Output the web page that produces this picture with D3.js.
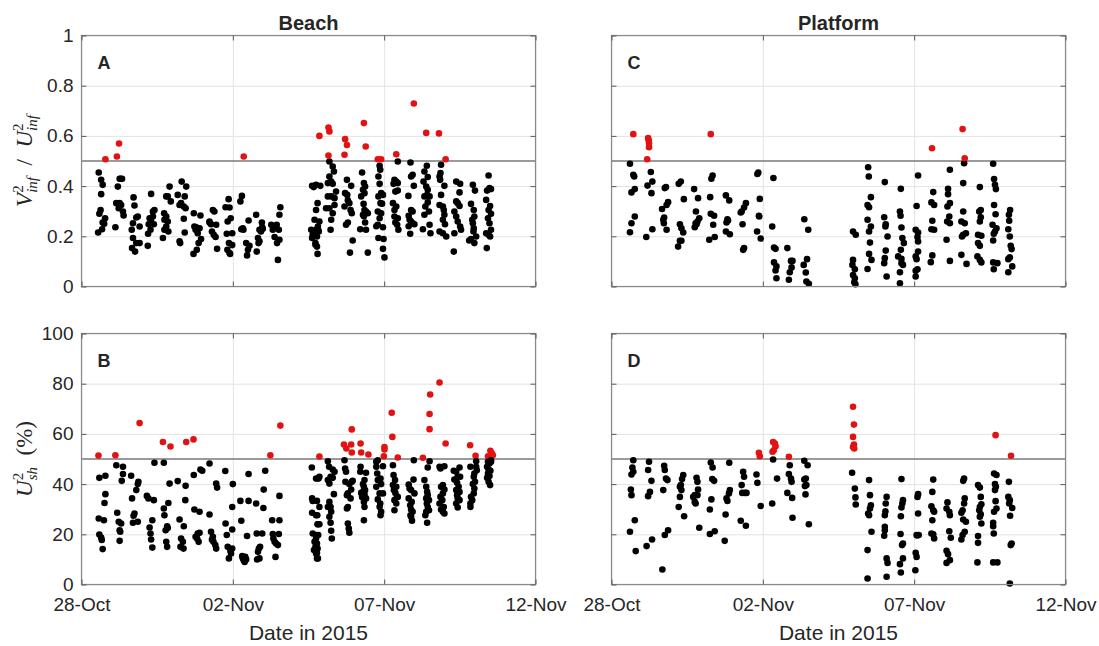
<!DOCTYPE html>
<html>
<head>
<meta charset="utf-8">
<script src="https://cdn.jsdelivr.net/npm/d3@7"></script>
<style>
  body { margin: 0; background: #fff; }
  svg { display: block; }
  text { font-family: "Liberation Sans", Arial, Helvetica, sans-serif; fill: #262626; }
</style>
</head>
<body>
<svg id="chart" width="1099" height="646"></svg>
<script>
// ---- axis ticks and labels ----
const dateTicks = ["2015-10-28", "2015-11-02", "2015-11-07", "2015-11-12"];
const ratioTicks = [0, 0.2, 0.4, 0.6, 0.8, 1];
const shearTicks = [0, 20, 40, 60, 80, 100];
const columnTitles = ["Beach", "Platform"];
const panelLetters = ["A", "C", "B", "D"];
const ratioThreshold = 0.5;
const shearThreshold = 50;

// ---- measurements: [days since 28-Oct-2015 00:00, value] ----
const beachRatio = [
  [0.57,0.454],[0.65,0.425],[0.70,0.405],[0.65,0.368],[0.63,0.305],[0.59,0.290],[0.78,0.272],[0.70,0.255],[0.75,0.250],[0.68,0.228],[0.55,0.215],
  [0.79,0.507],[1.17,0.518],[1.24,0.570],
  [1.26,0.429],[1.29,0.429],[1.20,0.398],[1.34,0.429],[1.15,0.332],[1.26,0.332],[1.31,0.325],[1.37,0.299],[1.39,0.283],[1.12,0.236],[1.23,0.312],
  [1.72,0.355],[1.75,0.323],[1.70,0.252],[1.81,0.275],[1.86,0.279],[1.92,0.239],[1.66,0.226],[1.70,0.193],[1.81,0.173],[1.67,0.153],[1.77,0.139],[1.92,0.173],
  [2.30,0.369],[2.36,0.299],[2.41,0.305],[2.25,0.272],[2.22,0.248],[2.28,0.226],[2.20,0.210],[2.19,0.162],[2.36,0.279],[2.39,0.248],[2.30,0.259],
  [2.91,0.398],[2.95,0.339],[2.80,0.359],[2.85,0.359],[2.73,0.292],[2.80,0.279],[2.85,0.259],[2.74,0.266],[2.80,0.239],[2.69,0.193],[2.87,0.219],[2.74,0.226],
  [3.31,0.418],[3.46,0.398],[3.18,0.365],[3.41,0.359],[3.29,0.332],[3.38,0.319],[3.44,0.312],[3.24,0.325],[3.38,0.270],[3.41,0.215],[3.26,0.173],[3.24,0.180],
  [3.71,0.292],[3.93,0.283],[3.73,0.239],[3.79,0.236],[3.90,0.232],[3.84,0.212],[3.77,0.226],[3.95,0.189],[3.87,0.173],[3.81,0.146],[3.70,0.130],
  [4.34,0.305],[4.39,0.299],[4.23,0.259],[4.28,0.248],[4.45,0.246],[4.31,0.219],[4.37,0.206],[4.43,0.197],[4.48,0.150],[4.23,0.255],
  [4.86,0.348],[4.76,0.316],[4.89,0.315],[4.93,0.272],[4.83,0.259],[4.98,0.212],[4.80,0.210],[4.87,0.173],[4.82,0.146],[4.91,0.130],[4.98,0.165],[4.89,0.133],
  [5.36,0.518],
  [5.30,0.361],[5.25,0.339],[5.52,0.263],[5.33,0.232],[5.35,0.226],[5.44,0.173],[5.50,0.146],[5.47,0.124],[5.55,0.162],[5.28,0.228],
  [5.77,0.286],[5.96,0.255],[5.88,0.226],[5.93,0.219],[5.99,0.230],[5.83,0.193],[5.85,0.173],[5.79,0.139],[5.88,0.180],[5.97,0.236],
  [6.27,0.246],[6.34,0.239],[6.45,0.246],[6.54,0.286],[6.57,0.316],[6.52,0.226],[6.38,0.197],[6.46,0.173],[6.54,0.186],[6.49,0.106],[6.32,0.226],
  [7.62,0.401],[7.67,0.396],[7.75,0.305],[7.70,0.266],[7.59,0.226],[7.64,0.206],[7.81,0.239],[7.73,0.173],[7.78,0.159],[7.68,0.212],[7.62,0.193],
  [7.84,0.219],[7.75,0.405],[7.80,0.332],[7.86,0.259],[7.82,0.226],[7.78,0.199],[7.73,0.166],[7.80,0.130],[7.89,0.401],[7.75,0.226],
  [7.86,0.600],
  [8.19,0.498],[8.30,0.478],[8.34,0.458],[8.19,0.438],[8.25,0.418],[8.14,0.412],[8.30,0.409],[8.41,0.378],[8.25,0.359],[8.36,0.352],[8.19,0.312],
  [8.36,0.325],[8.30,0.292],[8.25,0.266],[8.23,0.226],[8.14,0.359],[8.08,0.312],
  [8.16,0.633],[8.19,0.618],[8.16,0.522],
  [8.77,0.425],[8.91,0.401],[8.71,0.372],[8.78,0.365],[8.69,0.319],[8.80,0.343],[8.85,0.332],[8.89,0.305],[8.93,0.292],[8.80,0.255],[8.74,0.246],[8.96,0.183],[8.87,0.135],
  [8.71,0.587],[8.77,0.564],[8.69,0.525],
  [9.27,0.454],[9.33,0.412],[9.37,0.398],[9.30,0.385],[9.35,0.372],[9.24,0.359],[9.32,0.329],[9.35,0.305],[9.40,0.299],[9.46,0.292],[9.30,0.286],
  [9.37,0.255],[9.21,0.228],[9.40,0.226],[9.46,0.135],[9.33,0.280],
  [9.33,0.651],[9.39,0.558],
  [9.85,0.481],[9.87,0.465],[9.81,0.438],[9.85,0.409],[9.90,0.372],[9.96,0.365],[9.81,0.359],[9.88,0.332],[9.93,0.330],[9.79,0.299],[9.90,0.292],
  [9.85,0.272],[9.96,0.236],[9.79,0.246],[9.81,0.193],[9.98,0.189],[9.96,0.150],[10.01,0.116],[9.74,0.240],
  [9.79,0.507],[9.90,0.507],
  [10.45,0.498],[10.34,0.425],[10.40,0.418],[10.31,0.409],[10.45,0.412],[10.37,0.378],[10.45,0.382],[10.29,0.332],[10.40,0.319],[10.34,0.305],
  [10.45,0.272],[10.37,0.255],[10.43,0.246],[10.47,0.226],[10.34,0.279],
  [10.40,0.527],
  [10.87,0.494],[10.94,0.445],[10.89,0.438],[10.98,0.401],[10.80,0.361],[10.89,0.305],[10.94,0.299],[10.81,0.282],[10.84,0.266],[10.89,0.259],
  [10.94,0.252],[11.00,0.248],[10.86,0.210],[10.81,0.240],
  [10.98,0.729],
  [11.41,0.481],[11.33,0.458],[11.44,0.436],[11.30,0.418],[11.39,0.398],[11.44,0.385],[11.42,0.365],[11.33,0.359],[11.50,0.359],[11.44,0.335],
  [11.36,0.319],[11.48,0.299],[11.33,0.286],[11.50,0.246],[11.28,0.228],[11.53,0.212],
  [11.39,0.612],
  [11.88,0.485],[11.86,0.452],[11.83,0.438],[11.85,0.425],[11.99,0.401],[11.88,0.365],[11.83,0.325],[11.94,0.319],[11.97,0.305],[11.99,0.286],
  [11.94,0.266],[12.01,0.248],[11.83,0.219],[11.94,0.212],[12.05,0.199],
  [11.81,0.610],[12.03,0.507],
  [12.38,0.418],[12.51,0.409],[12.49,0.375],[12.38,0.339],[12.43,0.332],[12.49,0.321],[12.32,0.299],[12.38,0.279],[12.43,0.259],[12.51,0.239],
  [12.54,0.226],[12.32,0.212],[12.30,0.139],
  [12.93,0.405],[13.00,0.382],[12.87,0.329],[12.96,0.305],[12.98,0.279],[12.91,0.266],[12.93,0.252],[12.96,0.232],[13.04,0.199],[12.87,0.189],
  [12.98,0.173],[12.81,0.183],[12.95,0.219],
  [13.45,0.442],[13.48,0.392],[13.53,0.388],[13.40,0.382],[13.37,0.345],[13.50,0.321],[13.45,0.305],[13.53,0.290],[13.43,0.272],[13.48,0.252],
  [13.53,0.226],[13.37,0.212],[13.50,0.199],[13.45,0.206],[13.39,0.153]
];

const platformRatio = [
  [0.61,0.489],[0.72,0.445],[0.75,0.438],[0.77,0.388],[0.66,0.375],[0.77,0.279],[0.66,0.252],[0.61,0.216],
  [0.72,0.607],[1.21,0.591],[1.23,0.582],[1.24,0.571],[1.24,0.555],[1.18,0.507],
  [1.30,0.456],[1.35,0.418],[1.19,0.402],[1.32,0.372],[1.35,0.228],[1.15,0.197],
  [1.76,0.392],[1.80,0.396],[1.87,0.336],[1.82,0.325],[1.67,0.309],[1.74,0.275],[1.71,0.266],[1.73,0.252],[1.82,0.226],
  [2.29,0.418],[2.22,0.409],[2.39,0.348],[2.26,0.248],[2.31,0.232],[2.37,0.215],[2.31,0.182],[2.26,0.182],[2.20,0.159],
  [2.73,0.388],[2.86,0.352],[2.79,0.299],[2.90,0.272],[2.84,0.259],[2.81,0.248],[2.75,0.236],[2.78,0.252],
  [3.34,0.442],[3.30,0.429],[3.26,0.356],[3.28,0.290],[3.39,0.282],[3.36,0.246],[3.41,0.197],[3.23,0.186],
  [3.28,0.607],
  [3.78,0.363],[3.89,0.343],[3.83,0.268],[3.80,0.255],[3.85,0.263],[3.78,0.219],[3.91,0.208],
  [4.44,0.332],[4.38,0.315],[4.30,0.299],[4.33,0.248],[4.38,0.153],[4.35,0.146],[4.27,0.295],
  [4.82,0.448],[4.85,0.454],[4.90,0.349],[4.87,0.282],[4.88,0.279],[4.81,0.219],[4.93,0.191],
  [5.35,0.432],[5.31,0.239],[5.37,0.155],[5.42,0.150],[5.37,0.096],[5.45,0.080],[5.42,0.064],[5.45,0.033],
  [5.81,0.153],[5.93,0.102],[5.98,0.102],[5.95,0.076],[5.89,0.057],[5.86,0.027],
  [6.37,0.268],[6.50,0.226],[6.46,0.109],[6.35,0.086],[6.42,0.056],[6.44,0.020],[6.52,0.011],
  [7.98,0.219],[8.07,0.206],[7.98,0.106],[7.96,0.086],[8.04,0.069],[7.98,0.046],[8.04,0.033],[8.02,0.017],[8.06,0.009],
  [8.48,0.475],[8.50,0.438],[8.57,0.356],[8.46,0.325],[8.51,0.316],[8.46,0.266],[8.57,0.239],[8.51,0.219],[8.54,0.175],[8.51,0.130],[8.59,0.106],[8.46,0.070],
  [9.03,0.416],[9.01,0.276],[9.06,0.248],[9.05,0.239],[9.12,0.199],[9.06,0.143],[9.03,0.113],[9.01,0.093],[9.09,0.040],
  [9.56,0.389],[9.53,0.299],[9.55,0.282],[9.58,0.235],[9.61,0.193],[9.66,0.173],[9.56,0.146],[9.47,0.120],[9.58,0.093],[9.63,0.086],[9.58,0.110],[9.53,0.013],[9.53,0.057],
  [10.13,0.442],[10.08,0.321],[10.05,0.226],[10.13,0.215],[10.11,0.197],[10.13,0.179],[10.05,0.120],[10.13,0.139],[10.08,0.109],[10.11,0.069],[10.05,0.040],[10.05,0.063],
  [10.63,0.376],[10.57,0.335],[10.66,0.325],[10.60,0.262],[10.57,0.228],[10.66,0.226],[10.60,0.124],[10.55,0.097],
  [10.59,0.551],
  [11.18,0.465],[11.12,0.389],[11.12,0.368],[11.18,0.332],[11.10,0.319],[11.16,0.279],[11.09,0.259],[11.18,0.252],[11.07,0.186],[11.18,0.102],
  [11.65,0.491],[11.62,0.412],[11.62,0.299],[11.56,0.259],[11.67,0.252],[11.62,0.206],[11.71,0.212],[11.58,0.199],[11.56,0.126],[11.73,0.090],
  [11.60,0.627],[11.67,0.511],
  [12.17,0.396],[12.20,0.305],[12.15,0.299],[12.20,0.276],[12.17,0.259],[12.11,0.206],[12.22,0.202],[12.11,0.173],[12.09,0.120],[12.17,0.106],[12.22,0.096],[12.17,0.162],
  [12.61,0.489],[12.64,0.428],[12.67,0.405],[12.70,0.388],[12.64,0.325],[12.69,0.288],[12.72,0.232],[12.67,0.219],[12.61,0.183],[12.59,0.246],[12.63,0.210],[12.61,0.096],[12.75,0.093],[12.63,0.069],
  [13.13,0.286],[13.14,0.262],[13.11,0.228],[13.16,0.199],[13.19,0.162],[13.22,0.149],[13.16,0.116],[13.11,0.109],[13.24,0.080],[13.11,0.057],[13.17,0.305]
];

const beachShear = [
  [0.56,51.4],[1.12,51.5],[1.92,64.3],[2.69,56.8],[2.94,55.0],[3.46,56.8],[3.70,57.8],[6.24,51.5],[6.57,63.3],[7.86,51.0],
  [0.59,42.5],[0.79,43.3],[0.79,36.0],[0.76,32.5],[0.57,26.3],[0.74,25.6],[0.59,19.9],[0.65,18.7],[0.67,17.7],[0.70,14.1],
  [1.15,47.5],[1.37,46.9],[1.37,44.0],[1.33,41.3],[1.18,28.6],[1.23,25.0],[1.31,24.3],[1.26,21.6],[1.28,21.0],[1.26,17.4],
  [1.64,43.3],[1.88,40.9],[1.86,40.0],[1.81,37.6],[1.67,34.3],[1.75,28.3],[1.72,27.4],[1.70,24.6],[1.86,25.0],
  [2.41,48.5],[2.16,35.3],[2.21,34.3],[2.39,33.6],[2.34,25.6],[2.25,22.7],[2.28,20.3],[2.30,17.9],[2.34,14.7],
  [2.72,48.5],[2.91,40.2],[2.87,32.5],[2.72,30.3],[2.74,27.6],[2.83,23.2],[2.78,21.6],[2.80,17.0],[2.83,15.0],[2.85,22.5],
  [3.18,41.2],[3.44,39.3],[3.43,33.6],[3.24,25.9],[3.38,23.2],[3.29,18.3],[3.35,17.0],[3.27,15.0],[3.37,14.3],
  [3.71,43.6],[3.93,45.8],[3.99,45.3],[3.73,29.9],[3.90,29.0],[3.84,20.3],[3.77,19.0],[3.90,20.6],[3.87,17.0],[3.82,18.3],
  [4.23,48.2],[4.45,40.2],[4.48,38.6],[4.23,27.9],[4.28,21.0],[4.34,19.0],[4.36,17.0],[4.42,15.7],[4.45,14.3],[4.31,17.8],
  [4.75,45.2],[5.00,40.0],[4.98,30.9],[4.76,24.3],[4.80,19.7],[4.98,21.9],[4.83,15.0],[4.87,10.4],[4.92,13.4],[4.98,14.3],[4.94,12.4],
  [5.52,44.0],[5.25,33.3],[5.52,33.3],[5.28,25.4],[5.47,19.3],[5.31,11.3],[5.36,9.7],[5.39,9.0],[5.44,10.0],[5.41,11.0],[5.33,10.5],
  [6.07,45.3],[6.02,37.8],[6.01,30.5],[5.77,32.3],[5.79,20.3],[5.97,20.3],[5.86,14.3],[5.90,15.0],[5.83,13.0],[5.88,10.4],[5.80,10.0],
  [6.54,35.3],[6.30,25.6],[6.54,25.6],[6.32,20.1],[6.52,20.1],[6.38,17.0],[6.43,16.3],[6.49,15.7],[6.41,11.0],[6.34,18.3],
  [7.61,46.6],[7.83,42.2],[7.62,34.3],[7.64,33.3],[7.62,28.6],[7.79,27.6],[7.81,24.0],[7.64,20.3],[7.75,19.7],[7.70,17.0],[7.73,15.0],
  [7.78,12.6],[7.81,10.4],[7.68,13.7],[7.75,42.2],[7.86,42.9],[7.78,33.3],[7.86,30.9],[7.75,27.6],[7.80,24.0],[7.82,19.7],[7.75,18.3],
  [7.78,16.3],[7.80,14.3],[7.75,12.4],[7.78,10.4],[7.86,24.0],
  [8.14,49.1],[8.18,46.9],[8.30,45.8],[8.36,44.9],[8.23,42.9],[8.14,41.6],[8.19,40.2],[8.30,42.5],[8.34,36.0],[8.19,32.9],[8.23,30.9],
  [8.25,29.0],[8.19,27.0],[8.23,24.6],[8.25,21.4],[8.27,18.3],[8.14,30.9],
  [8.67,55.8],[8.75,54.2],[8.93,61.8],[8.91,55.8],[8.93,52.6],[9.22,56.2],[9.24,52.6],[9.48,51.8],[10.01,54.8],[10.01,53.8],[9.99,51.1],
  [10.25,68.4],[10.27,58.8],[10.45,50.6],[11.28,50.5],[11.50,61.9],[11.50,67.9],[11.52,75.7],[11.83,80.5],[12.03,56.2],[12.84,55.5],
  [13.02,51.3],[13.43,51.1],[13.51,53.3],[13.56,52.2],[13.59,51.5],
  [8.69,49.5],[8.71,46.2],[8.74,44.9],[8.72,40.9],[8.77,35.6],[8.80,36.3],[8.85,40.0],[8.91,37.8],[8.89,34.3],[8.80,30.9],[8.77,30.3],
  [8.80,24.3],[8.83,22.3],[8.85,20.6],[8.93,40.9],[8.96,41.3],
  [9.22,46.9],[9.21,44.9],[9.40,44.5],[9.35,41.6],[9.30,40.0],[9.33,38.9],[9.37,37.6],[9.30,36.9],[9.35,36.0],[9.27,34.9],[9.40,34.3],
  [9.33,32.9],[9.35,30.9],[9.33,25.6],[9.24,36.5],
  [9.74,48.9],[9.79,49.5],[9.74,46.9],[9.77,44.2],[9.96,47.1],[9.79,41.6],[9.88,42.2],[9.74,38.9],[9.90,40.0],[9.85,36.3],[9.96,36.3],
  [9.79,33.9],[9.87,32.3],[9.85,30.9],[9.88,27.6],[9.90,29.0],
  [10.29,47.5],[10.31,43.6],[10.36,41.6],[10.29,39.6],[10.40,38.9],[10.32,37.6],[10.37,36.5],[10.42,34.9],[10.34,33.6],[10.40,32.3],
  [10.34,29.6],[10.45,34.9],
  [10.98,49.5],[10.81,39.8],[10.97,41.8],[10.84,38.2],[10.89,37.6],[11.00,36.3],[10.81,34.3],[10.91,32.9],[10.86,31.6],[10.89,29.9],
  [10.94,29.0],[10.89,27.0],[10.92,25.4],[10.87,27.6],
  [11.50,49.1],[11.44,46.6],[11.33,41.6],[11.39,38.9],[11.42,36.9],[11.44,35.6],[11.39,34.3],[11.48,33.6],[11.41,32.3],[11.44,30.9],
  [11.48,29.6],[11.39,29.0],[11.42,24.6],[11.36,27.6],
  [11.83,46.9],[11.86,46.2],[11.99,47.1],[11.94,39.6],[11.88,38.9],[11.99,37.8],[11.94,36.3],[11.86,34.9],[11.92,33.6],[11.83,32.3],
  [11.97,30.9],[11.88,29.9],[11.94,29.0],[11.99,28.3],
  [12.30,45.3],[12.38,44.9],[12.49,46.6],[12.43,42.9],[12.32,41.8],[12.41,40.5],[12.46,38.9],[12.38,37.6],[12.49,36.9],[12.41,35.6],
  [12.43,34.3],[12.49,33.6],[12.38,32.3],[12.43,30.7],[12.51,42.9],
  [12.85,46.9],[13.04,49.1],[13.04,46.9],[12.98,44.2],[12.96,42.9],[13.00,40.9],[12.93,40.0],[12.98,38.2],[12.96,36.3],[12.87,34.9],
  [12.91,33.6],[12.85,32.3],[12.85,30.9],[13.06,45.5],
  [13.43,48.9],[13.48,48.2],[13.53,48.9],[13.40,46.9],[13.45,45.8],[13.51,45.3],[13.43,44.2],[13.48,43.2],[13.40,42.5],[13.45,40.9],
  [13.50,39.6],[13.53,49.5]
];

const platformShear = [
  [4.87,52.5],[4.90,51.1],[5.34,56.8],[5.40,56.2],[5.42,55.1],[5.36,53.5],[5.32,52.9],[5.86,50.9],
  [7.98,70.8],[8.01,63.7],[7.98,58.8],[8.01,55.8],[7.98,54.8],[8.02,54.2],[12.69,59.5],[13.20,51.3],
  [0.72,49.5],[0.69,46.6],[0.72,44.9],[0.66,43.8],[0.64,37.8],[0.66,35.6],[0.77,25.6],[0.61,21.0],[0.80,13.3],
  [1.24,48.9],[1.21,45.6],[1.32,41.3],[1.27,36.9],[1.21,35.2],[1.34,17.9],[1.16,15.3],
  [1.74,47.3],[1.76,45.6],[1.80,42.2],[1.85,41.6],[1.71,37.6],[1.87,21.6],[1.76,19.7],[1.68,6.0],
  [2.37,43.6],[2.33,42.0],[2.29,39.6],[2.26,38.9],[2.31,37.6],[2.26,34.9],[2.22,30.9],[2.40,27.2],
  [2.81,42.5],[2.84,40.9],[2.86,37.8],[2.75,35.6],[2.84,35.6],[2.70,34.9],[2.75,32.9],[2.78,32.3],[2.90,22.6],
  [3.28,48.6],[3.34,46.6],[3.33,42.0],[3.39,41.3],[3.30,33.9],[3.25,29.9],[3.41,21.2],[3.25,20.1],
  [3.89,48.5],[3.91,37.6],[3.88,36.3],[3.80,34.3],[3.83,33.3],[3.77,27.9],[3.74,17.4],
  [4.35,44.9],[4.38,42.9],[4.30,39.6],[4.32,36.5],[4.41,36.5],[4.46,36.5],[4.27,25.4],[4.44,23.4],
  [4.79,43.8],[4.82,40.5],[4.93,31.3],
  [5.34,49.8],[5.47,42.2],[5.31,32.3],
  [5.89,47.5],[5.86,44.0],[5.93,42.2],[5.95,40.9],[5.81,36.5],[5.97,34.5],[5.98,26.6],
  [6.37,49.3],[6.48,47.5],[6.42,42.2],[6.37,41.8],[6.44,39.6],[6.39,39.2],[6.41,35.9],[6.52,24.0],
  [7.95,44.5],[8.04,38.2],[8.06,34.7],[8.07,31.9],
  [8.51,41.6],[8.54,35.6],[8.57,31.6],[8.54,30.3],[8.48,28.3],[8.51,27.6],[8.59,21.0],[8.46,13.7],[8.46,2.4],
  [9.09,34.9],[9.06,32.3],[9.05,29.2],[9.03,27.6],[9.03,23.0],[9.03,21.6],[9.01,19.4],[9.09,10.4],[9.12,8.6],[9.09,3.1],
  [9.58,42.0],[9.63,33.6],[9.61,32.3],[9.58,30.7],[9.56,27.2],[9.55,20.1],[9.63,16.3],[9.60,15.7],[9.63,10.4],[9.53,8.1],[9.56,4.8],
  [10.13,36.0],[10.11,34.9],[10.13,28.3],[10.08,19.7],[10.15,19.7],[10.05,12.6],[10.08,11.0],[10.04,5.7],[10.10,19.5],
  [10.63,41.8],[10.60,36.9],[10.57,31.2],[10.63,29.6],[10.66,29.0],[10.60,25.6],[10.57,20.3],[10.66,18.3],[10.63,20.0],
  [11.10,32.7],[11.16,29.0],[11.07,30.3],[11.18,27.6],[11.16,21.2],[11.21,18.6],[11.07,13.4],[11.12,12.1],[11.18,9.7],[11.07,8.6],
  [11.65,42.2],[11.62,41.3],[11.67,34.3],[11.65,32.3],[11.60,29.6],[11.56,28.6],[11.62,25.9],[11.71,25.0],[11.67,21.0],[11.60,19.7],[11.56,17.9],
  [12.11,39.6],[12.17,38.6],[12.20,34.9],[12.22,32.0],[12.17,30.9],[12.15,29.6],[12.20,28.0],[12.17,27.0],[12.22,24.3],[12.11,19.3],[12.11,16.6],[12.09,8.8],
  [12.64,44.2],[12.72,43.6],[12.67,40.0],[12.70,38.9],[12.67,37.6],[12.69,33.2],[12.72,30.3],[12.64,29.0],[12.61,24.6],[12.61,23.2],[12.63,20.3],[12.61,8.8],[12.75,8.8],
  [13.13,40.9],[13.11,34.9],[13.16,33.6],[13.14,32.3],[13.24,30.5],[13.17,27.4],[13.22,16.3],[13.19,15.7],[13.16,0.4]
];

// ---- layout ----
const W = 454, H = 251;
const colX = [81.5, 611.5];
const rowY = [35.5, 333.5];
const DAY = 86400000;
const origin = new Date(dateTicks[0]).getTime();

const svg = d3.select("#chart");
const x = d3.scaleUtc()
  .domain([new Date(dateTicks[0]), new Date(dateTicks[dateTicks.length - 1])])
  .range([0, W]);
const tickDates = dateTicks.map(d => new Date(d));
const fmtDate = d3.utcFormat("%d-%b");

const panels = [
  { data: beachRatio,    row: 0, col: 0, ticks: ratioTicks, thr: ratioThreshold, letter: panelLetters[0] },
  { data: platformRatio, row: 0, col: 1, ticks: ratioTicks, thr: ratioThreshold, letter: panelLetters[1] },
  { data: beachShear,    row: 1, col: 0, ticks: shearTicks, thr: shearThreshold, letter: panelLetters[2] },
  { data: platformShear, row: 1, col: 1, ticks: shearTicks, thr: shearThreshold, letter: panelLetters[3] }
];

const gridColor = "#e3e3e3";
const boxColor = "#8a8a8a";
const tickColor = "#5a5a5a";

panels.forEach(p => {
  const g = svg.append("g").attr("transform", `translate(${colX[p.col]},${rowY[p.row]})`);
  const y = d3.scaleLinear().domain([p.ticks[0], p.ticks[p.ticks.length - 1]]).range([H, 0]);

  // grid lines
  g.append("g").call(d3.axisLeft(y).tickValues(p.ticks).tickSize(-W).tickFormat(""))
    .call(a => a.select(".domain").remove())
    .call(a => a.selectAll("line").attr("stroke", gridColor));
  g.append("g").attr("transform", `translate(0,${H})`)
    .call(d3.axisBottom(x).tickValues(tickDates).tickSize(-H).tickFormat(""))
    .call(a => a.select(".domain").remove())
    .call(a => a.selectAll("line").attr("stroke", gridColor));

  // threshold
  g.append("line")
    .attr("x1", 0).attr("x2", W)
    .attr("y1", y(p.thr)).attr("y2", y(p.thr))
    .attr("stroke", "#787878").attr("stroke-width", 1.6);

  // points
  g.append("g").selectAll("circle").data(p.data).join("circle")
    .attr("cx", d => x(new Date(origin + d[0] * DAY)))
    .attr("cy", d => y(d[1]))
    .attr("r", 3.3)
    .attr("fill", d => d[1] > p.thr ? "#e31212" : "#000");

  // box
  g.append("rect").attr("width", W).attr("height", H)
    .attr("fill", "none").attr("stroke", boxColor).attr("stroke-width", 1.2);

  // inward ticks on all four sides
  const left = g.append("g").call(d3.axisLeft(y).tickValues(p.ticks).tickSize(-5).tickPadding(8)
    .tickFormat(p.col === 0 ? d3.format("") : ""));
  left.select(".domain").remove();
  left.selectAll("line").attr("stroke", tickColor);
  left.selectAll("text").style("font-size", "19px").attr("fill", "#262626");
  const right = g.append("g").attr("transform", `translate(${W},0)`)
    .call(d3.axisRight(y).tickValues(p.ticks).tickSize(-5).tickFormat(""));
  right.select(".domain").remove();
  right.selectAll("line").attr("stroke", tickColor);
  const top = g.append("g")
    .call(d3.axisTop(x).tickValues(tickDates).tickSize(-5).tickFormat(""));
  top.select(".domain").remove();
  top.selectAll("line").attr("stroke", tickColor);
  const bottom = g.append("g").attr("transform", `translate(0,${H})`)
    .call(d3.axisBottom(x).tickValues(tickDates).tickSize(-5).tickPadding(13)
      .tickFormat(p.row === 1 ? fmtDate : ""));
  bottom.select(".domain").remove();
  bottom.selectAll("line").attr("stroke", tickColor);
  bottom.selectAll("text").style("font-size", "19px").attr("fill", "#262626");

  // panel letter
  g.append("text").attr("x", 16).attr("y", 33)
    .style("font-size", "18px").style("font-weight", "bold").text(p.letter);

  // column title and x label
  if (p.row === 0) {
    g.append("text").attr("x", W / 2).attr("y", -6).attr("text-anchor", "middle")
      .style("font-size", "20px").style("font-weight", "bold").text(columnTitles[p.col]);
  } else {
    g.append("text").attr("x", W / 2).attr("y", H + 55).attr("text-anchor", "middle")
      .style("font-size", "21px").attr("fill", "#262626").text("Date in 2015");
  }
});

// y-axis labels (math style)
const serif = "'Liberation Serif', 'Times New Roman', serif";
function mathLabel(cy, build) {
  const t = svg.append("text")
    .attr("transform", `translate(32,${cy}) rotate(-90)`)
    .attr("text-anchor", "middle")
    .style("font-family", serif).style("font-size", "23px").attr("fill", "#404040");
  build(t);
}
mathLabel(rowY[0] + H / 2, t => {
  t.append("tspan").style("font-style", "italic").text("V");
  t.append("tspan").attr("dy", -9).style("font-size", "15px").text("2");
  t.append("tspan").attr("dx", -7.5).attr("dy", 14).style("font-size", "15px").style("font-style", "italic").text("inf");
  t.append("tspan").attr("dy", -5).text("\u2002/\u2002");
  t.append("tspan").style("font-style", "italic").text("U");
  t.append("tspan").attr("dy", -9).style("font-size", "15px").text("2");
  t.append("tspan").attr("dx", -7.5).attr("dy", 14).style("font-size", "15px").style("font-style", "italic").text("inf");
});
mathLabel(rowY[1] + H / 2, t => {
  t.append("tspan").style("font-style", "italic").text("U");
  t.append("tspan").attr("dy", -9).style("font-size", "15px").text("2");
  t.append("tspan").attr("dx", -7.5).attr("dy", 14).style("font-size", "15px").style("font-style", "italic").text("sh");
  t.append("tspan").attr("dy", -5).text("\u2002(%)");
});
</script>
</body>
</html>
